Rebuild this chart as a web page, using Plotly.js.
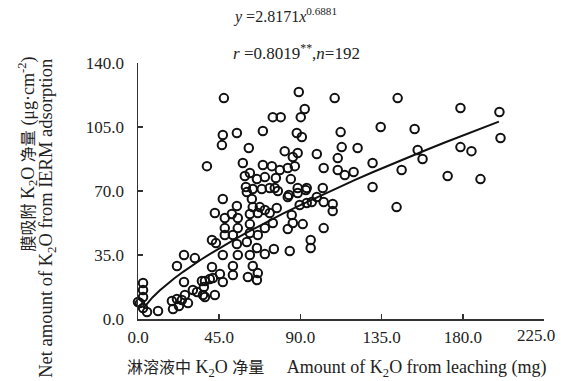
<!DOCTYPE html>
<html>
<head>
<meta charset="utf-8">
<script src="https://cdn.plot.ly/plotly-3.0.1.min.js"></script>
<style>html,body{margin:0;padding:0;background:#fff;}#chart{width:563px;height:381px;}</style>
</head>
<body>
<div id="chart"></div>
<script>
// Observed points: K2O from leaching (mg) vs K2O net adsorption on IERM (μg·cm-2)
const leachX = [47.6,74.7,79.1,54.8,69.2,47.0,46.5,61.4,38.2,89.1,109.0,143.9,92.4,90.2,88.0,90.8,112.3,134.5,153.3,81.3,85.8,88.5,99.1,112.9,121.7,110.7,130.0,102.9,110.7,114.6,119.5,146.1,74.2,78.6,83.0,86.9,76.4,84.7,155.0,93.5,102.4,130.0,75.8,88.5,178.7,200.3,200.9,157.7,178.7,184.8,171.6,189.8,58.1,69.2,62.0,59.2,65.9,70.3,59.8,63.6,68.6,73.0,77.5,60.3,63.1,88.5,93.0,83.0,47.0,54.8,63.6,67.5,70.3,76.9,42.6,89.6,93.5,83.6,99.1,96.3,102.9,107.9,107.9,143.3,73.0,74.7,85.2,85.8,91.3,102.9,83.0,95.7,95.7,84.1,75.3,48.1,52.0,55.3,62.0,66.4,48.1,48.1,52.6,55.3,62.0,62.0,66.4,70.3,41.0,43.2,54.8,60.3,65.9,47.0,55.3,62.0,70.3,41.0,41.5,45.4,37.1,47.0,52.6,52.6,63.6,60.9,66.4,65.9,36.0,42.6,25.5,31.5,21.6,25.5,2.8,2.8,2.8,1.1,2.8,5.0,11.1,18.8,21.6,19.4,26.0,30.4,27.7,37.1,35.4,39.8,36.5,22.7,24.3,0,32.7];
const adsorbY = [120.8,110.4,110.4,101.7,102.8,100.6,95.1,93.5,83.6,124.1,120.8,120.8,114.8,110.4,101.7,99.5,102.2,105.0,103.9,91.8,88.6,90.8,90.2,94.0,93.5,88.0,85.3,82.6,81.5,78.7,80.4,81.5,83.6,81.5,82.6,83.6,77.1,76.5,92.4,71.6,71.6,72.2,71.6,71.6,115.4,113.2,99.0,87.5,94.0,91.8,78.2,76.5,85.3,84.2,79.8,78.2,76.5,77.6,72.2,71.1,71.1,71.6,70.0,69.4,65.6,68.9,70.5,66.7,65.6,61.8,61.2,61.2,59.6,60.7,58.0,62.3,63.4,67.8,66.7,64.0,64.0,62.9,59.0,61.2,58.0,52.5,56.9,52.5,51.9,49.7,49.2,43.2,38.8,37.2,38.3,55.2,57.4,55.2,57.4,58.0,49.7,45.9,45.9,49.7,51.9,47.0,45.9,49.7,43.2,41.5,41.0,42.1,38.8,35.0,35.0,35.0,35.5,28.4,22.4,24.6,20.8,20.2,29.0,24.1,29.0,23.0,25.1,21.3,13.1,13.1,35.0,33.3,29.0,20.2,19.7,15.9,12.0,8.7,6.0,3.8,4.4,9.8,10.9,5.5,13.1,15.9,8.7,12.0,20.8,21.9,17.5,7.1,10.4,9.3,14.8];

// Power fit shown on chart: y = 2.8171 x^0.6881
const fitA = 2.8171;
const fitB = 0.6881;
const fitX = [3,5,8,12,16,20,25,30,35,40,45,50,55,60,65,70,75,80,90,100,110,120,130,140,150,160,170,180,190,200];
const fitY = fitX.map(v => fitA * Math.pow(v, fitB));

const xTicks = [0, 45, 90, 135, 180, 225];
const xTickText = ['0.0', '45.0', '90.0', '135.0', '180.0', ''];
const xLastLabel = '225.0';
const yTicks = [0, 35, 70, 105, 140];

const serif = 'Liberation Serif, Times New Roman, serif';
const cjkSpan = s => '<span style="font-family:Noto Sans CJK SC;font-size:16px">' + s + '</span>';

const traces = [
  {
    type: 'scatter', mode: 'markers', x: leachX, y: adsorbY,
    cliponaxis: false,
    marker: {symbol: 'circle-open', size: 8.5, color: '#111', line: {width: 2, color: '#111'}},
    hoverinfo: 'skip', showlegend: false
  },
  {
    type: 'scatter', mode: 'lines', x: fitX, y: fitY,
    line: {color: '#111', width: 2}, hoverinfo: 'skip', showlegend: false
  }
];

const axisCommon = {
  showgrid: false, zeroline: false, showline: true, linecolor: '#333', linewidth: 1.5,
  ticks: 'inside', ticklen: 5, tickwidth: 1.5, tickcolor: '#333',
  tickfont: {family: serif, size: 17, color: '#222'}, tickformat: '.1f',
  mirror: false, fixedrange: true
};

const layout = {
  width: 563, height: 381,
  margin: {l: 138, r: 19, t: 63, b: 62},
  paper_bgcolor: '#fff', plot_bgcolor: '#fff',
  xaxis: Object.assign({}, axisCommon, {range: [0, 225], tickvals: xTicks, ticktext: xTickText, ticklabelstandoff: 2}),
  yaxis: Object.assign({}, axisCommon, {range: [0, 140], tickvals: yTicks, ticklabelstandoff: 9}),
  annotations: [
    {xref: 'x', yref: 'paper', x: 220.5, y: -0.066, xanchor: 'center', yanchor: 'middle', showarrow: false,
     text: xLastLabel, font: {family: serif, size: 17, color: '#222'}},
    {xref: 'paper', yref: 'paper', x: 0.229, y: 1.187, xanchor: 'left', yanchor: 'middle', showarrow: false,
     text: '<i>y</i> =2.8171<i>x</i><sup>0.6881</sup>', font: {family: serif, size: 16, color: '#222'}},
    {xref: 'paper', yref: 'paper', x: 0.229, y: 1.043, xanchor: 'left', yanchor: 'middle', showarrow: false,
     text: '<i>r</i> =0.8019<sup>**</sup>,<i>n</i>=192', font: {family: serif, size: 17, color: '#222'}},
    {xref: 'paper', yref: 'paper', x: 0.49, y: -0.187, xanchor: 'center', yanchor: 'middle', showarrow: false,
     text: cjkSpan('淋溶液中') + ' K<sub>2</sub>O ' + cjkSpan('净量') + '     Amount of K<sub>2</sub>O from leaching (mg)',
     font: {family: serif, size: 18, color: '#222'}},
    {xref: 'paper', yref: 'paper', x: -0.272, y: 0.645, xanchor: 'center', yanchor: 'middle', showarrow: false, textangle: -90,
     text: cjkSpan('膜吸附') + ' K<sub>2</sub>O ' + cjkSpan('净量') + ' (μg·cm<sup>-2</sup>)',
     font: {family: serif, size: 18, color: '#222'}},
    {xref: 'paper', yref: 'paper', x: -0.222, y: 0.395, xanchor: 'center', yanchor: 'middle', showarrow: false, textangle: -90,
     text: 'Net amount of K<sub>2</sub>O from IERM adsorption',
     font: {family: serif, size: 18.5, color: '#222'}}
  ]
};

Plotly.newPlot('chart', traces, layout, {displayModeBar: false, staticPlot: true});
</script>
</body>
</html>
